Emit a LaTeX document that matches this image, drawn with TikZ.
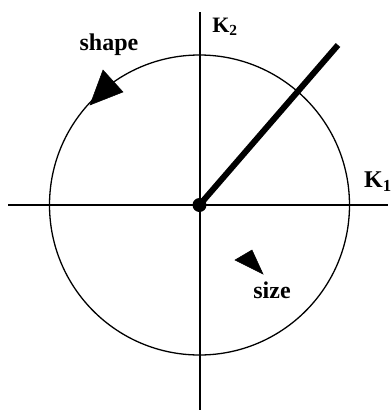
\documentclass[tikz,border=0pt]{standalone}
\usepackage{fontspec}
\setmainfont{Liberation Serif}
\begin{document}
\begin{tikzpicture}[x=1pt,y=-1pt,
  lbl/.style={font=\fontsize{24}{24}\selectfont\bfseries, inner sep=0pt},
  axis/.style={line width=1.4pt},
  ring/.style={line width=1.3pt},
  head/.style={fill=black, draw=black, line width=0.5pt, line join=miter}]
\useasboundingbox (0,0) rectangle (391,413);
\coordinate (O) at (199.5,205);
\coordinate (xl) at (8,205);
\coordinate (xr) at (388,205);
\coordinate (yt) at (200,12);
\coordinate (yb) at (200,410);
\coordinate (e) at (338,45);
\draw[axis] (xl) -- (xr);
\draw[axis] (yt) -- (yb);
\draw[ring] (O) circle[radius=150pt];
\node[circle, fill=black, minimum size=14pt, inner sep=0pt] (c) at (O) {};
\draw[line width=6pt] (c.center) -- (e);
% arrowheads
\filldraw[head] (90,105) -- (103,70) -- (123,92) -- cycle;
\filldraw[head] (263,274) -- (235,260) -- (252,250) -- cycle;
% labels
\node[lbl] (shape) at (109,45) {shape};
\node[lbl] (size) at (272,290) {size};
\node[lbl] (k1) at (378,182) {K\textsubscript{1}};
\node[lbl, font=\fontsize{22}{22}\selectfont\bfseries] (k2) at (225,27) {K\textsubscript{2}};
\end{tikzpicture}
\end{document}
